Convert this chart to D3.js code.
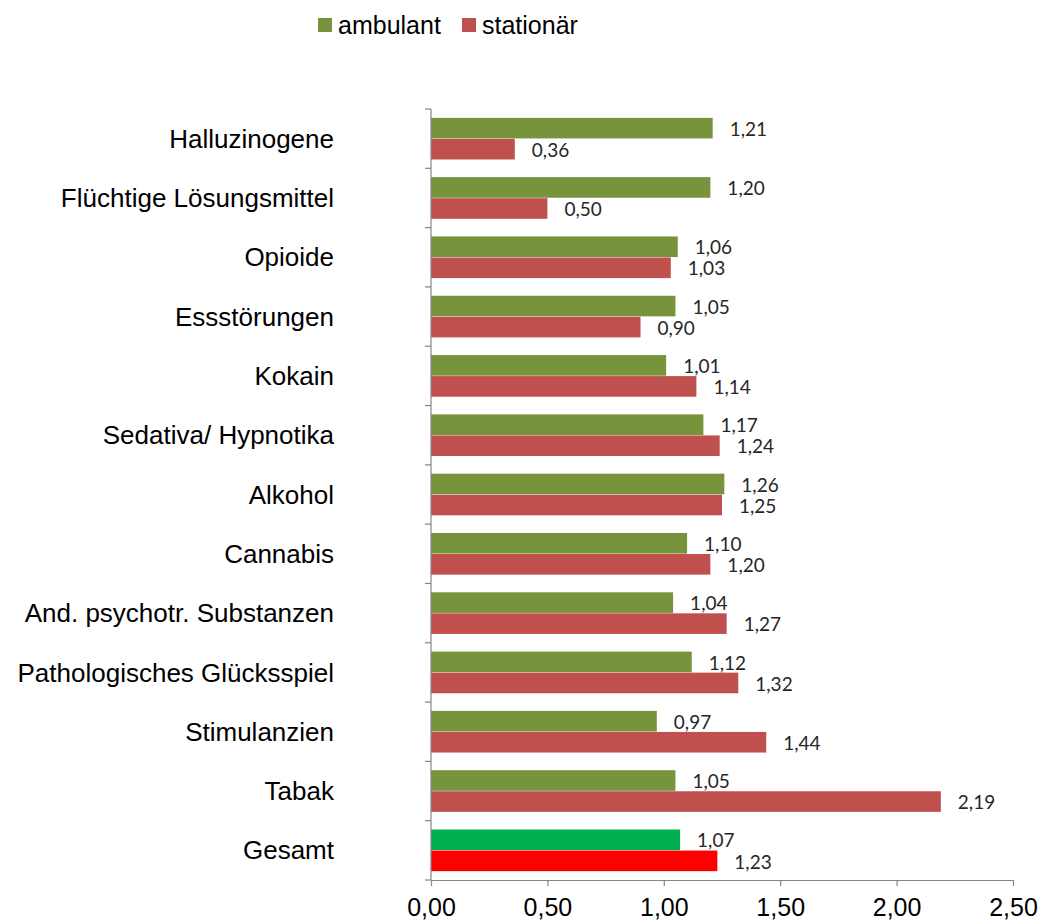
<!DOCTYPE html>
<html>
<head>
<meta charset="UTF-8">
<script src="https://d3js.org/d3.v7.min.js"></script>
<style>
  body { margin: 0; background: #fff; }
  svg text { font-family: "Liberation Sans", Arial, sans-serif; }
</style>
</head>
<body>
<svg id="chart"></svg>
<script>
// categories top to bottom
const categories = ["Halluzinogene", "Flüchtige Lösungsmittel", "Opioide", "Essstörungen", "Kokain",
  "Sedativa/ Hypnotika", "Alkohol", "Cannabis", "And. psychotr. Substanzen",
  "Pathologisches Glücksspiel", "Stimulanzien", "Tabak", "Gesamt"];
const ambulant = [1.21, 1.20, 1.06, 1.05, 1.01, 1.17, 1.26, 1.10, 1.04, 1.12, 0.97, 1.05, 1.07];
const stationaer = [0.36, 0.50, 1.03, 0.90, 1.14, 1.24, 1.25, 1.20, 1.27, 1.32, 1.44, 2.19, 1.23];
const seriesNames = ["ambulant", "stationär"];
const xTicks = [0, 0.5, 1, 1.5, 2, 2.5];

const width = 1047, height = 924;
const margin = {top: 109, left: 431, right: 34, bottom: 44};

const svg = d3.select("#chart").attr("width", width).attr("height", height);

const x = d3.scaleLinear().domain([0, 2.5]).range([margin.left, width - margin.right]);
const y = d3.scaleBand().domain(categories).range([margin.top, height - margin.bottom]);
const inner = d3.scaleBand().domain(seriesNames).range([0, y.bandwidth()]).paddingOuter(0.42).paddingInner(0.02);

const fmt = v => d3.format(".2f")(v).replace(".", ",");
const colorFor = (s, cat) => {
  if (cat === "Gesamt") return s === "ambulant" ? "#00B050" : "#FF0000";
  return s === "ambulant" ? "#77933C" : "#C0504D";
};

const rows = categories.map((c, i) => ({cat: c, vals: [
  {s: "ambulant", v: ambulant[i]}, {s: "stationär", v: stationaer[i]}]}));

const g = svg.selectAll("g.cat").data(rows).enter().append("g")
  .attr("class", "cat")
  .attr("transform", d => `translate(0,${y(d.cat)})`);

g.selectAll("rect").data(d => d.vals.map(v => ({...v, cat: d.cat}))).enter().append("rect")
  .attr("x", x(0))
  .attr("y", d => inner(d.s))
  .attr("width", d => x(d.v) - x(0))
  .attr("height", inner.bandwidth())
  .attr("fill", d => colorFor(d.s, d.cat));

g.selectAll("text.val").data(d => d.vals).enter().append("text")
  .attr("class", "val")
  .attr("x", d => x(d.v) + 17)
  .attr("y", d => inner(d.s) + inner.bandwidth() / 2 + 1)
  .attr("dy", "0.35em")
  .style("font-family", "Lato, 'Open Sans', sans-serif")
  .style("font-size", "19px")
  .attr("fill", "#262626")
  .text(d => fmt(d.v));

// y axis
const yAxis = svg.append("g")
  .attr("transform", `translate(${margin.left},0)`);
yAxis.append("line")
  .attr("x1", 0).attr("x2", 0)
  .attr("y1", margin.top).attr("y2", height - margin.bottom)
  .attr("stroke", "#868686").attr("stroke-width", 1.2);
yAxis.selectAll("line.tick").data(categories.concat([null])).enter().append("line")
  .attr("class", "tick")
  .attr("x1", -6).attr("x2", 0)
  .attr("y1", (d, i) => margin.top + i * y.step())
  .attr("y2", (d, i) => margin.top + i * y.step())
  .attr("stroke", "#868686").attr("stroke-width", 1.2);
yAxis.selectAll("text").data(categories).enter().append("text")
  .attr("x", -97)
  .attr("y", d => y(d) + y.bandwidth() / 2)
  .attr("dy", "0.35em")
  .attr("text-anchor", "end")
  .style("font-size", "26px")
  .attr("fill", "#000")
  .text(d => d);

// x axis
const xAxis = svg.append("g")
  .attr("transform", `translate(0,${height - margin.bottom})`)
  .call(d3.axisBottom(x).tickValues(xTicks).tickSize(6).tickSizeOuter(0).tickFormat(fmt).tickPadding(12));
xAxis.select(".domain").attr("stroke", "#868686").attr("stroke-width", 1.2);
xAxis.selectAll(".tick line").attr("stroke", "#868686").attr("stroke-width", 1.2);
xAxis.selectAll(".tick text")
  .style("font-family", "'Liberation Sans', Arial, sans-serif")
  .style("font-size", "25px")
  .attr("fill", "#000");

// legend
const legend = svg.append("g").attr("transform", "translate(318,25)");
const legX = [0, 144];
seriesNames.forEach((s, i) => {
  const lg = legend.append("g").attr("transform", `translate(${legX[i]},0)`);
  lg.append("rect").attr("x", 0).attr("y", -7).attr("width", 14).attr("height", 14)
    .attr("fill", colorFor(s, ""));
  lg.append("text").attr("x", 20).attr("y", 0).attr("dy", "0.35em")
    .style("font-size", "25px").attr("fill", "#000").text(s);
});
</script>
</body>
</html>
